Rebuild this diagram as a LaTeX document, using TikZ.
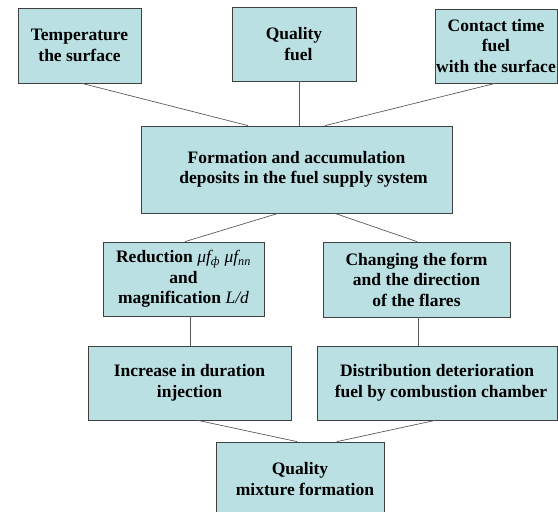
\documentclass[tikz,border=0pt]{standalone}
\usepackage{fontspec}
\setmainfont{Liberation Serif}
\definecolor{boxfill}{RGB}{187,224,227}
\definecolor{boxline}{RGB}{64,64,64}
\definecolor{conn}{RGB}{90,90,90}
\tikzset{
  box/.style={draw=boxline, line width=0.8pt, fill=boxfill, inner sep=0pt, align=center,
    font=\fontsize{17.5}{20.5}\selectfont\bfseries},
  conn/.style={draw=conn, line width=0.7pt}
}
\begin{document}
\begin{tikzpicture}[x=1pt,y=-1pt]
\useasboundingbox (0,0) rectangle (558,512);
\node[box, minimum width=123pt, minimum height=75pt] (b1) at (79.5,45.5) {Temperature\\the surface};
\node[box, minimum width=124pt, minimum height=74pt] (b2) at (294,44) {Quality\\\hspace*{9pt}fuel};
\node[box, minimum width=122pt, minimum height=74pt] (b3) at (496,46) {Contact time\\fuel\\with the surface};
\node[box, minimum width=311pt, minimum height=87pt] (b4) at (296.5,169.5) {Formation and accumulation\\\hspace*{14pt}deposits in the fuel supply system};
\node[box, minimum width=161pt, minimum height=74pt] (b5) at (183.5,279) {Reduction {\mdseries\itshape μf\textsubscript{ф} μf\textsubscript{пп}}\\and\\magnification {\mdseries\itshape L/d}};
\node[box, minimum width=187pt, minimum height=75pt] (b6) at (416.5,279.5) {Changing the form\\and the direction\\of the flares};
\node[box, minimum width=203pt, minimum height=74pt] (b7) at (189.5,383) {Increase in duration\\injection};
\node[box, minimum width=240pt, minimum height=74pt] (b8) at (437,383) {Distribution deterioration\\\hspace*{8pt}fuel by combustion chamber};
\node[box, minimum width=168pt, minimum height=74pt] (b9) at (300,479) {Quality\\\hspace*{10pt}mixture formation};
\draw[conn] ([xshift=2.5pt]b1.south) -- ([xshift=-48.5pt]b4.north);
\draw[conn] ([xshift=5pt]b2.south) -- ([xshift=2.5pt]b4.north);
\draw[conn] ([xshift=-1pt]b3.south) -- ([xshift=28.5pt]b4.north);
\draw[conn] ([xshift=-18.5pt]b4.south) -- ([xshift=1.5pt]b5.north);
\draw[conn] ([xshift=38.5pt]b4.south) -- ([xshift=0.5pt]b6.north);
\draw[conn] ([xshift=6.5pt]b5.south) -- ([xshift=0.5pt]b7.north);
\draw[conn] ([xshift=1.5pt]b6.south) -- ([xshift=-19pt]b8.north);
\draw[conn] ([xshift=8.5pt]b7.south) -- ([xshift=-3pt]b9.north);
\draw[conn] ([xshift=-2pt]b8.south) -- ([xshift=37pt]b9.north);
\end{tikzpicture}
\end{document}
